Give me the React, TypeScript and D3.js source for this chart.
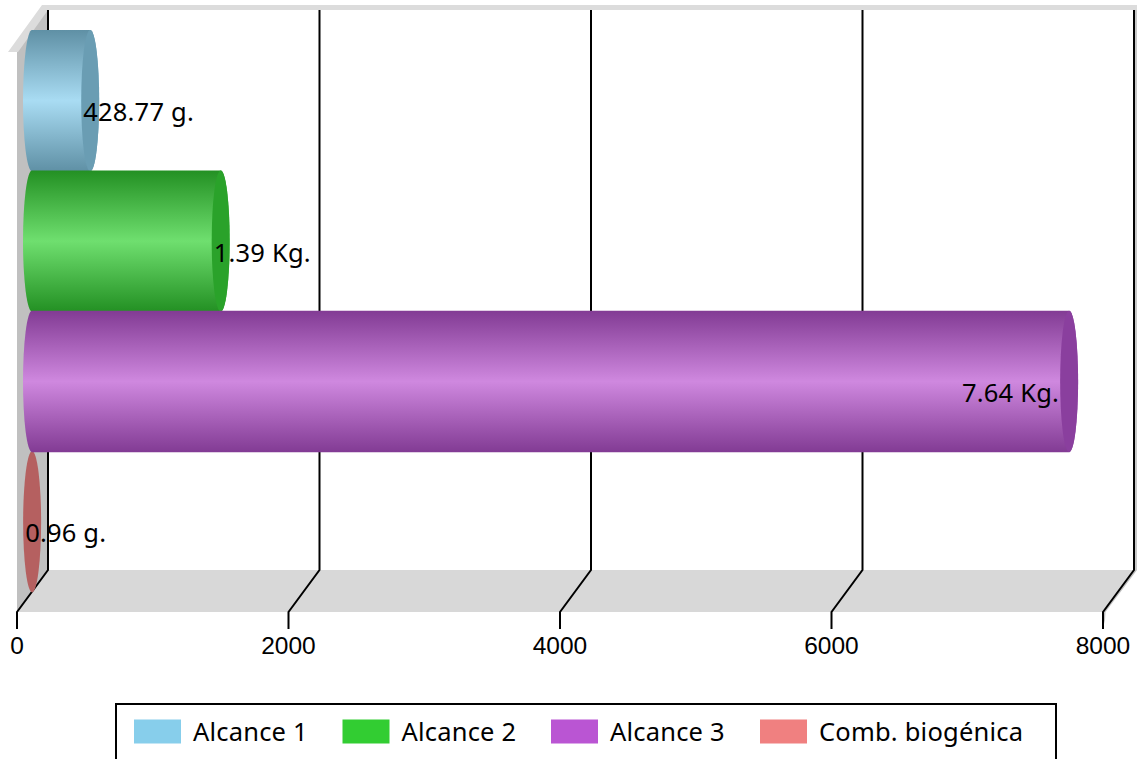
import React from "react";
import * as d3 from "d3";

const categories = ["Alcance 1", "Alcance 2", "Alcance 3", "Comb. biogénica"];
const values = [428.77, 1390, 7640, 0.96];
const valueLabels = ["428.77 g.", "1.39 Kg.", "7.64 Kg.", "0.96 g."];
const baseColors = ["#87CEEB", "#32CD32", "#BA55D3", "#F08080"];
const midColors = ["#a9dcf3", "#6fdf6f", "#cf88df", "#f4a0a0"];
const edgeColors = ["#5f90a5", "#239023", "#823b94", "#a85a5a"];
const capColors = ["#6a9db3", "#2aa22a", "#8a3f9e", "#b56060"];
const ticks = [0, 2000, 4000, 6000, 8000];
const drawOrder = [0, 1, 3, 2];

const FONT = "'Noto Sans', sans-serif";
const TICK_FONT = "'Liberation Sans', Arial, sans-serif";

export default function App() {
  const x = d3.scaleLinear().domain([0, 8000]).range([17, 1103]);
  const y = d3.scaleBand<string>().domain(categories).range([31, 592.5]).padding(0);
  const dx = 31;
  const dy = 42;
  const floorY = 612;
  const backY = floorY - dy;
  const topY = 10;
  const barOff = 15;
  const rx = 9;
  const bh = y.bandwidth();
  const xMax = x(8000);

  return (
    <svg
      width={1137}
      height={759}
      style={{ position: "absolute", left: 0, top: 0, background: "#fff" }}
    >
      <defs>
        {categories.map((c, i) => (
          <linearGradient key={c} id={`g${i}`} x1="0" y1="0" x2="0" y2="1">
            <stop offset="0" stopColor={edgeColors[i]} />
            <stop offset="0.5" stopColor={midColors[i]} />
            <stop offset="1" stopColor={edgeColors[i]} />
          </linearGradient>
        ))}
      </defs>

      {/* walls */}
      <polygon points={`17,52 ${17 + dx - 2},${topY} ${17 + dx},${topY} ${17 + dx},${backY} 17,${floorY}`} fill="#c0c0c0" />
      <polygon points={`8,52 42,5 1137,5 1137,10 48,10 18,52`} fill="#dcdcdc" />
      <polygon
        points={`17,${floorY} ${17 + dx},${backY} ${xMax + dx},${backY} ${xMax},${floorY}`}
        fill="#d8d8d8"
      />
      <polygon
        points={`${xMax},${floorY} ${xMax + dx},${backY} ${xMax + dx + 3},${backY} ${xMax + 2.5},${floorY} ${xMax + 2},${floorY + 8} ${xMax},${floorY + 16}`}
        fill="#c0c0c0"
      />
      <rect x={xMax + dx + 1} y={topY} width={2} height={backY - topY} fill="#c8c8c8" />

      {/* grid and ticks */}
      {ticks.map((t) => (
        <g key={t}>
          <path
            d={`M${x(t) + dx},${topY}V${backY}L${x(t)},${floorY}V${floorY + 17}`}
            fill="none"
            stroke="#000"
            strokeWidth={2}
          />
          <text
            x={x(t)}
            y={654}
            textAnchor="middle"
            fontFamily={TICK_FONT}
            fontSize={24.5}
            fill="#000"
          >
            {t}
          </text>
        </g>
      ))}

      {/* cylinders */}
      {drawOrder.map((i) => {
        const top = y(categories[i])! - 1;
        const h = bh + 1;
        const bottom = top + h;
        const x0 = x(0) + barOff;
        const x1 = x(values[i]) + barOff;
        const ry = h / 2;
        const body = `M${x0},${top}L${x1},${top}A${rx},${ry} 0 0 1 ${x1},${bottom}L${x0},${bottom}A${rx},${ry} 0 0 1 ${x0},${top}Z`;
        return (
          <g key={i}>
            {values[i] > 10 && <path d={body} fill={`url(#g${i})`} />}
            <ellipse cx={x1} cy={top + ry} rx={rx} ry={ry} fill={capColors[i]} />
          </g>
        );
      })}

      {/* value labels */}
      {categories.map((c, i) => {
        const inside = values[i] > 4000;
        const xEnd = x(values[i]) + barOff;
        return (
          <text
            key={c}
            x={inside ? xEnd - 10 : xEnd - rx + 2}
            y={y(c)! + bh / 2 + 20}
            textAnchor={inside ? "end" : "start"}
            fontFamily={FONT}
            fontSize={25.5}
            letterSpacing={0.2}
            fill="#000"
          >
            {valueLabels[i]}
          </text>
        );
      })}

      {/* legend */}
      <rect x={116} y={704} width={940} height={70} fill="#fff" stroke="#000" strokeWidth={2} />
      {categories.map((c, i) => {
        const lx = [134, 342.5, 551, 760][i];
        return (
          <g key={c}>
            <rect x={lx} y={719.5} width={47} height={24} fill={baseColors[i]} />
            <text x={lx + 59} y={741} fontFamily={FONT} fontSize={25.5} letterSpacing={0.2} fill="#000">
              {c}
            </text>
          </g>
        );
      })}
    </svg>
  );
}
